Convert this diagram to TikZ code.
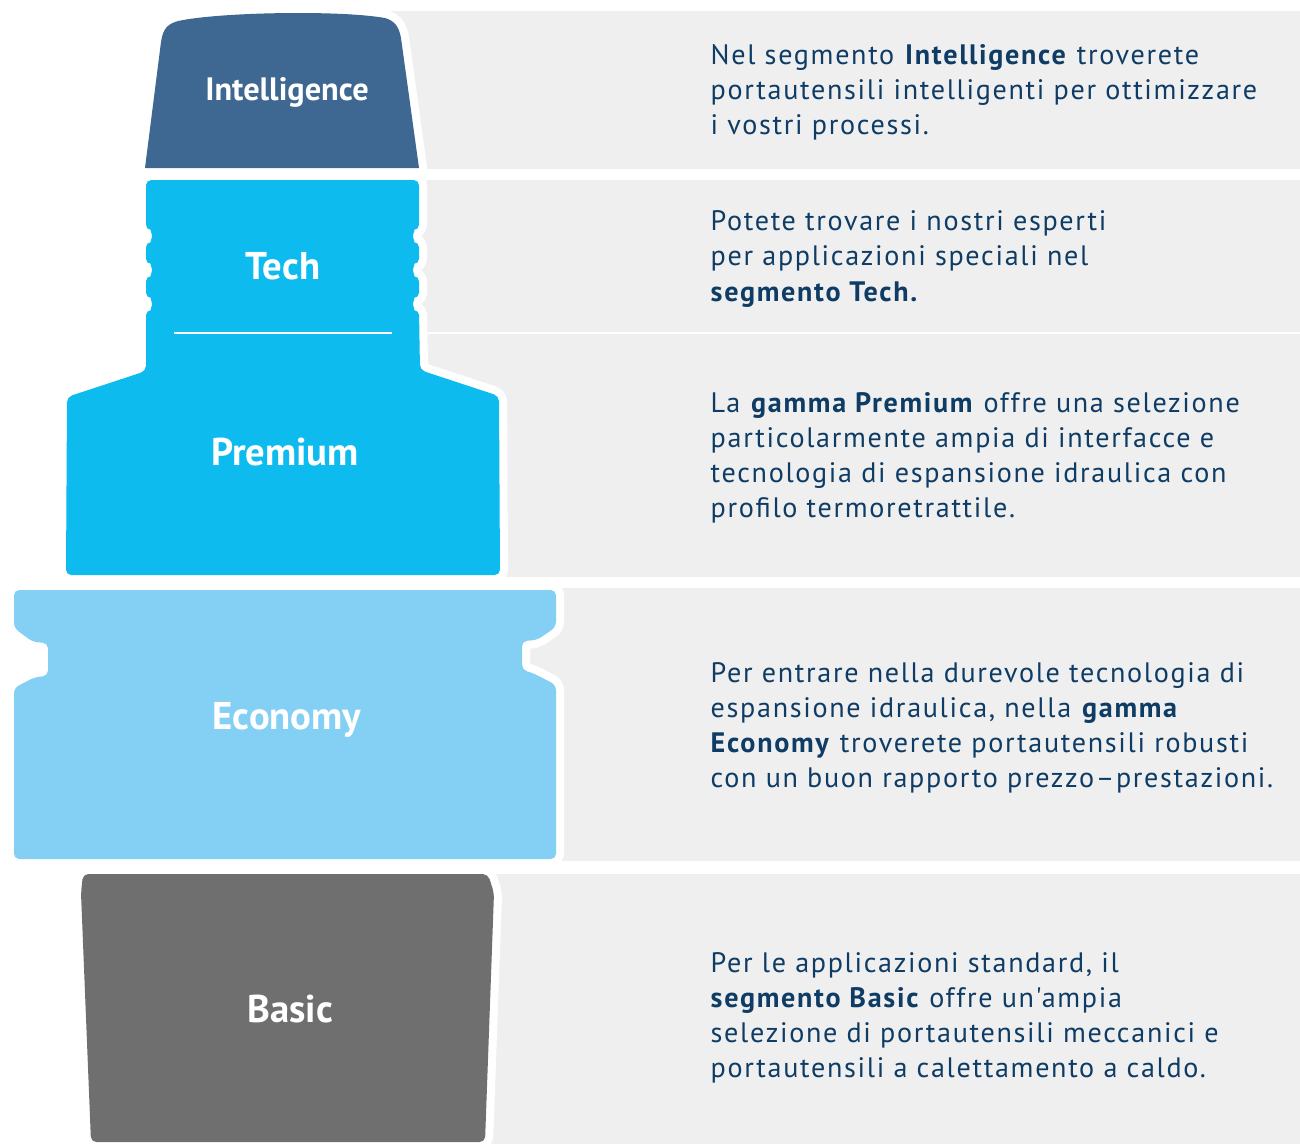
\documentclass[tikz,border=0pt]{standalone}
\usepackage{fontspec}
\setmainfont{PT Sans}
\newfontfamily\descfont[LetterSpace=6]{PT Sans}
\usetikzlibrary{positioning}

\definecolor{intelblue}{HTML}{3E6891}
\definecolor{techcyan}{HTML}{0DBBEE}
\definecolor{ecoblue}{HTML}{84CFF4}
\definecolor{basicgray}{HTML}{6F6F6F}
\definecolor{bandgray}{HTML}{EFEFEF}
\definecolor{textnavy}{HTML}{0E3C65}

\tikzset{
    segment/.style={fill=#1, preaction={draw=white, line width=4.6pt, line join=round}},
    seglabel/.style={anchor=base, text=white, font=\bfseries\fontsize{11}{13}\selectfont},
    desc/.style={anchor=west, align=left, text=textnavy, inner sep=0pt,
        font=\descfont\fontsize{8}{10}\selectfont}
}

\begin{document}
\begin{tikzpicture}[x=0.01cm, y=-0.01cm]
    \useasboundingbox (0,0) rectangle (1300,1144);

    % grey bands behind the texts
    \fill[bandgray] (300,11) rectangle (1300,169);
    \fill[bandgray] (300,180) rectangle (1300,332);
    \fill[bandgray] (300,334) rectangle (1300,577);
    \fill[bandgray] (300,588) rectangle (1300,861);
    \fill[bandgray] (300,874) rectangle (1300,1144);

    % tool holder parts
    \path[segment=intelblue]
        (145,168) -- (161,42) .. controls (163,28) and (168,24) .. (178,21)
        .. controls (220,12) and (340,10) .. (385,18)
        .. controls (395,21) and (399,27) .. (401,38) -- (419,168) -- cycle;

    \path[segment=techcyan, rounded corners=1.5pt]
        (146,180) -- (419,180)
        -- (419,230) arc[start angle=270, end angle=90, radius=6]
        -- (419,264) arc[start angle=270, end angle=90, radius=6]
        -- (419,298) arc[start angle=270, end angle=90, radius=6]
        -- (420,370) -- (499,396) -- (500,575) -- (66,575) -- (67,397) -- (146,371)
        -- (146,310) arc[start angle=90, end angle=-90, radius=6]
        -- (146,276) arc[start angle=90, end angle=-90, radius=6]
        -- (146,242) arc[start angle=90, end angle=-90, radius=6]
        -- cycle;
    \draw[white, line width=0.6pt] (174,333) -- (392,333);

    \path[segment=ecoblue, rounded corners=1.5pt]
        (14,590) -- (556,590) -- (556,627) -- (537,640) -- (522,641) -- (522,670)
        -- (533,673) -- (556,685) -- (556,859) -- (14,859) -- (14,688) -- (35,677)
        -- (48,676) -- (48,643) -- (33,642) -- (14,628) -- cycle;

    \path[segment=basicgray, rounded corners=1.5pt]
        (83,874) -- (488,874) -- (494,893) -- (485,1142) -- (91,1142) -- (81,893) -- cycle;

    \node[seglabel, font=\bfseries\fontsize{9.2}{11}\selectfont] (intel) at (287,100) {Intelligence};
    \node[seglabel] (tech) at (283,279) {Tech};
    \node[seglabel] (premium) at (285,465) {Premium};
    \node[seglabel] (economy) at (287,729) {Economy};
    \node[seglabel] (basic) at (290,1022) {Basic};

    \node[desc] (intel-txt) at (710,92) {Nel segmento \textbf{Intelligence} troverete\\
        portautensili intelligenti per ottimizzare\\ i vostri processi.};
    \node[desc] (tech-txt) at (710,259) {Potete trovare i nostri esperti\\
        per applicazioni speciali nel\\ \textbf{segmento Tech.}};
    \node[desc] (premium-txt) at (710,458) {La \textbf{gamma Premium} offre una selezione\\
        particolarmente ampia di interfacce e\\ tecnologia di espansione idraulica con\\
        profilo termoretrattile.};
    \node[desc] (economy-txt) at (710,728) {Per entrare nella durevole tecnologia di\\
        espansione idraulica, nella \textbf{gamma}\\ \textbf{Economy} troverete portautensili robusti\\
        con un buon rapporto prezzo\textendash prestazioni.};
    \node[desc] (basic-txt) at (710,1018) {Per le applicazioni standard, il\\
        \textbf{segmento Basic} offre un'ampia\\ selezione di portautensili meccanici e\\
        portautensili a calettamento a caldo.};
\end{tikzpicture}
\end{document}
